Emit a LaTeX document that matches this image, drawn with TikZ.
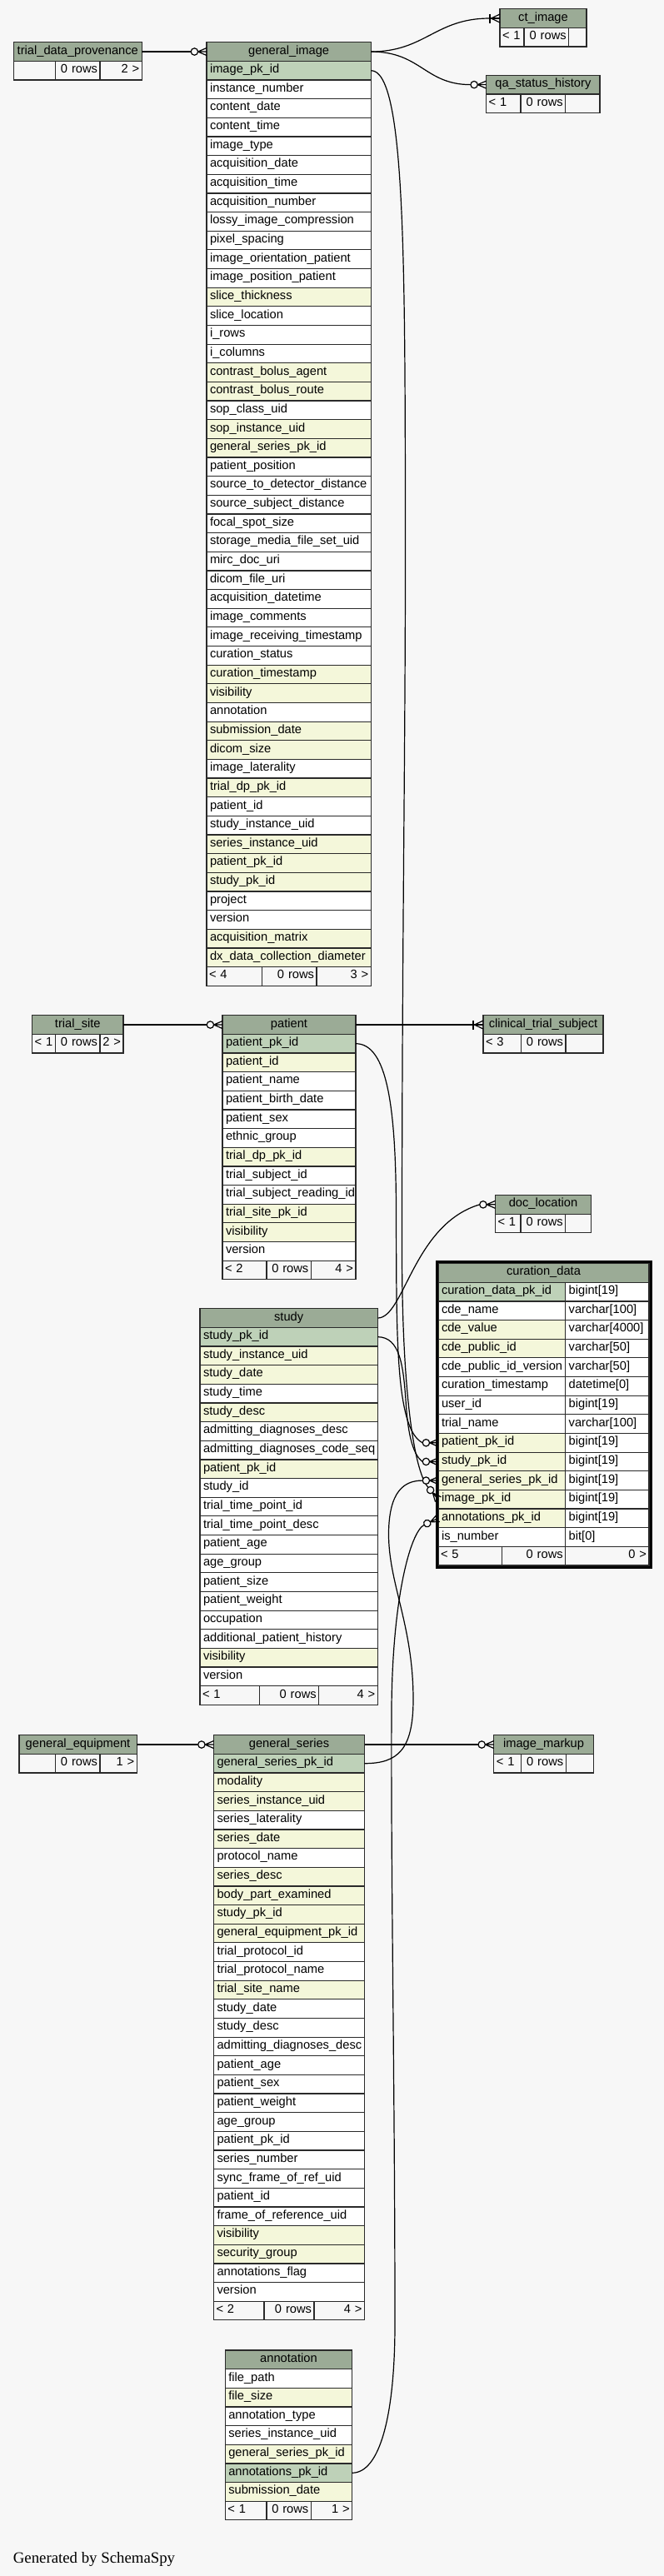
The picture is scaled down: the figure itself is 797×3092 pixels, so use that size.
\documentclass[tikz,border=0pt]{standalone}
\usepackage{fontspec}
\setmainfont{Liberation Sans}
\newfontfamily\genfont{Liberation Serif}
\usepackage{xcolor}
\usetikzlibrary{calc}
\usetikzlibrary{positioning}
\definecolor{hdrc}{HTML}{9BAB96}
\definecolor{pkc}{HTML}{BED1B8}
\definecolor{idxc}{HTML}{F4F7DA}
\definecolor{bgc}{HTML}{F7F7F7}
\definecolor{linec}{HTML}{2A2A2A}

\begin{document}
\begin{tikzpicture}[x=1pt,y=-1pt,
   cell/.style={draw=linec, line width=1.2pt, outer sep=0pt, inner xsep=4pt, inner ysep=0pt,
      minimum height=22.65pt, text height=10pt, text depth=4pt, anchor=north west, align=left,
      font=\fontsize{14.67}{17}\selectfont},
   hdr/.style={cell, fill=hdrc, align=center},
   pkr/.style={cell, fill=pkc},
   idx/.style={cell, fill=idxc},
   col/.style={cell, fill=white},
   ftl/.style={cell, fill=bgc, inner xsep=3pt},
   ftr/.style={cell, fill=bgc, inner xsep=3pt, align=right},
   fkline/.style={draw=black, line width=1.2pt},
   zmany/.pic={
      \draw[fkline, fill=bgc] (-14.6,0) circle[radius=4.2];
      \draw[fkline] (-10.4,0) -- (0,-4.5) (-10.4,0) -- (0,0) (-10.4,0) -- (0,4.5);
   },
   onemany/.pic={
      \draw[fkline] (-12.5,0) -- (0,0);
      \draw[fkline, line width=2pt] (-12.5,-5.5) -- (-12.5,5.5);
      \draw[fkline] (-10.5,0) -- (0,-5) (-10.5,0) -- (0,5);
   }]
\useasboundingbox (0,0) rectangle (797,3092);
\fill[bgc] (0,0) rectangle (797,3092);

% trial_data_provenance
\node[hdr, text width=146pt] (tdp) at (16.3,50.7) {trial\_data\_provenance};
\node[ftl, text width=44.3pt] (tdp-f1) at (16.3,73.35) {};
\node[ftr, text width=47.4pt] (tdp-f2) at (66.6,73.35) {0~rows};
\node[ftr, text width=44.3pt] (tdp-f3) at (120,73.35) {2~>};

% general_image
\node[hdr, text width=189.3pt] (gi) at (248,50.7) {general\_image};
\foreach \rowname/\rowsty [count=\i] in {image\_pk\_id/pkr, instance\_number/col, content\_date/col,
   content\_time/col, image\_type/col, acquisition\_date/col, acquisition\_time/col,
   acquisition\_number/col, lossy\_image\_compression/col, pixel\_spacing/col,
   image\_orientation\_patient/col, image\_position\_patient/col, slice\_thickness/idx,
   slice\_location/col, i\_rows/col, i\_columns/col, contrast\_bolus\_agent/idx,
   contrast\_bolus\_route/idx, sop\_class\_uid/col, sop\_instance\_uid/idx,
   general\_series\_pk\_id/idx, patient\_position/col, source\_to\_detector\_distance/col,
   source\_subject\_distance/col, focal\_spot\_size/col, storage\_media\_file\_set\_uid/col,
   mirc\_doc\_uri/col, dicom\_file\_uri/col, acquisition\_datetime/col, image\_comments/col,
   image\_receiving\_timestamp/col, curation\_status/col, curation\_timestamp/idx,
   visibility/idx, annotation/col, submission\_date/idx, dicom\_size/idx,
   image\_laterality/col, trial\_dp\_pk\_id/idx, patient\_id/col, study\_instance\_uid/col,
   series\_instance\_uid/idx, patient\_pk\_id/idx, study\_pk\_id/idx, project/col, version/col,
   acquisition\_matrix/idx, dx\_data\_collection\_diameter/idx}
   \node[\rowsty, text width=189.3pt] (gi-\i) at (248,{50.7+\i*22.65}) {\rowname};
\node[ftl, text width=60.3pt] (gi-f1) at (248,1160.55) {<~4};
\node[ftr, text width=59.7pt] (gi-f2) at (314.3,1160.55) {0~rows};
\node[ftr, text width=59.3pt] (gi-f3) at (380,1160.55) {3~>};

% ct_image
\node[hdr, text width=96pt] (ct) at (600,10.7) {ct\_image};
\node[ftl, text width=23pt] (ct-f1) at (600,33.35) {<~1};
\node[ftr, text width=47.7pt] (ct-f2) at (629,33.35) {0~rows};
\node[ftr, text width=15.3pt] (ct-f3) at (682.7,33.35) {};

% qa_status_history
\node[hdr, text width=128.3pt] (qa) at (583.7,90.3) {qa\_status\_history};
\node[ftl, text width=35.3pt] (qa-f1) at (583.7,112.95) {<~1};
\node[ftr, text width=47.7pt] (qa-f2) at (625,112.95) {0~rows};
\node[ftr, text width=35.3pt] (qa-f3) at (678.7,112.95) {};

% trial_site
\node[hdr, text width=101.4pt] (ts) at (38.6,1218.7) {trial\_site};
\node[ftl, text width=22pt] (ts-f1) at (38.6,1241.35) {<~1};
\node[ftr, text width=47.4pt] (ts-f2) at (66.6,1241.35) {0~rows};
\node[ftr, text width=22pt] (ts-f3) at (120,1241.35) {2~>};

% patient
\node[hdr, text width=152pt] (pa) at (267,1218.7) {patient};
\foreach \rowname/\rowsty [count=\i] in {patient\_pk\_id/pkr, patient\_id/idx, patient\_name/col,
   patient\_birth\_date/col, patient\_sex/col, ethnic\_group/col, trial\_dp\_pk\_id/idx,
   trial\_subject\_id/col, trial\_subject\_reading\_id/col, trial\_site\_pk\_id/idx,
   visibility/idx, version/col}
   \node[\rowsty, text width=152pt] (pa-\i) at (267,{1218.7+\i*22.65}) {\rowname};
\node[ftl, text width=47pt] (pa-f1) at (267,1513.15) {<~2};
\node[ftr, text width=47.3pt] (pa-f2) at (320,1513.15) {0~rows};
\node[ftr, text width=47.7pt] (pa-f3) at (373.3,1513.15) {4~>};

% clinical_trial_subject
\node[hdr, text width=136pt] (cts) at (580,1218.7) {clinical\_trial\_subject};
\node[ftl, text width=39.3pt] (cts-f1) at (580,1241.35) {<~3};
\node[ftr, text width=47.7pt] (cts-f2) at (625.3,1241.35) {0~rows};
\node[ftr, text width=39pt] (cts-f3) at (679,1241.35) {};

% doc_location
\node[hdr, text width=107pt] (dl) at (594.5,1434.5) {doc\_location};
\node[ftl, text width=24.5pt] (dl-f1) at (594.5,1457.15) {<~1};
\node[ftr, text width=47.7pt] (dl-f2) at (625,1457.15) {0~rows};
\node[ftr, text width=24.8pt] (dl-f3) at (678.7,1457.15) {};

% curation_data
\node[hdr, text width=245pt] (cd) at (526,1516.6) {curation\_data};
\foreach \rowname/\rowsty/\rowtype [count=\i] in {curation\_data\_pk\_id/pkr/bigint[19],
   cde\_name/col/varchar[100], cde\_value/idx/varchar[4000], cde\_public\_id/idx/varchar[50],
   cde\_public\_id\_version/col/varchar[50], curation\_timestamp/col/datetime[0],
   user\_id/col/bigint[19], trial\_name/col/varchar[100], patient\_pk\_id/idx/bigint[19],
   study\_pk\_id/idx/bigint[19], general\_series\_pk\_id/idx/bigint[19],
   image\_pk\_id/idx/bigint[19], annotations\_pk\_id/idx/bigint[19], is\_number/col/bit[0]}
{
   \node[\rowsty, text width=144.7pt] (cd-\i) at (526,{1516.6+\i*22.65}) {\rowname};
   \node[col, text width=92.3pt] (cd-\i-t) at (678.7,{1516.6+\i*22.65}) {\rowtype};
}
\node[ftl, text width=70.7pt] (cd-f1) at (526,1856.35) {<~5};
\node[ftr, text width=70pt] (cd-f2) at (602.7,1856.35) {0~rows};
\node[ftr, text width=94.3pt] (cd-f3) at (678.7,1856.35) {0~>};

% study
\node[hdr, text width=205.3pt] (st) at (240,1570.7) {study};
\foreach \rowname/\rowsty [count=\i] in {study\_pk\_id/pkr, study\_instance\_uid/idx,
   study\_date/idx, study\_time/col, study\_desc/idx, admitting\_diagnoses\_desc/col,
   admitting\_diagnoses\_code\_seq/col, patient\_pk\_id/idx, study\_id/col,
   trial\_time\_point\_id/col, trial\_time\_point\_desc/col, patient\_age/col, age\_group/col,
   patient\_size/col, patient\_weight/col, occupation/col, additional\_patient\_history/col,
   visibility/idx, version/col}
   \node[\rowsty, text width=205.3pt] (st-\i) at (240,{1570.7+\i*22.65}) {\rowname};
\node[ftl, text width=65.7pt] (st-f1) at (240,2023.7) {<~1};
\node[ftr, text width=65pt] (st-f2) at (311.7,2023.7) {0~rows};
\node[ftr, text width=64.6pt] (st-f3) at (382.7,2023.7) {4~>};

% general_equipment
\node[hdr, text width=133.3pt] (geq) at (22.9,2082.7) {general\_equipment};
\node[ftl, text width=37.7pt] (geq-f1) at (22.9,2105.35) {};
\node[ftr, text width=47.4pt] (geq-f2) at (66.6,2105.35) {0~rows};
\node[ftr, text width=38.2pt] (geq-f3) at (120,2105.35) {1~>};

% general_series
\node[hdr, text width=173pt] (gs) at (256.5,2082.7) {general\_series};
\foreach \rowname/\rowsty [count=\i] in {general\_series\_pk\_id/pkr, modality/idx,
   series\_instance\_uid/idx, series\_laterality/col, series\_date/idx, protocol\_name/col,
   series\_desc/idx, body\_part\_examined/idx, study\_pk\_id/idx, general\_equipment\_pk\_id/idx,
   trial\_protocol\_id/col, trial\_protocol\_name/col, trial\_site\_name/idx, study\_date/col,
   study\_desc/col, admitting\_diagnoses\_desc/col, patient\_age/col, patient\_sex/col,
   patient\_weight/col, age\_group/col, patient\_pk\_id/col, series\_number/col,
   sync\_frame\_of\_ref\_uid/col, patient\_id/col, frame\_of\_reference\_uid/col,
   visibility/idx, security\_group/idx, annotations\_flag/col, version/col}
   \node[\rowsty, text width=173pt] (gs-\i) at (256.5,{2082.7+\i*22.65}) {\rowname};
\node[ftl, text width=54.5pt] (gs-f1) at (256.5,2762.2) {<~2};
\node[ftr, text width=54pt] (gs-f2) at (317,2762.2) {0~rows};
\node[ftr, text width=54.5pt] (gs-f3) at (377,2762.2) {4~>};

% image_markup
\node[hdr, text width=111.5pt] (im) at (592.8,2082.7) {image\_markup};
\node[ftl, text width=26.5pt] (im-f1) at (592.8,2105.35) {<~1};
\node[ftr, text width=47.9pt] (im-f2) at (625.3,2105.35) {0~rows};
\node[ftr, text width=27.1pt] (im-f3) at (679.2,2105.35) {};

% annotation
\node[hdr, text width=144.4pt] (an) at (270.3,2821) {annotation};
\foreach \rowname/\rowsty [count=\i] in {file\_path/col, file\_size/idx, annotation\_type/col,
   series\_instance\_uid/col, general\_series\_pk\_id/idx, annotations\_pk\_id/pkr,
   submission\_date/idx}
   \node[\rowsty, text width=144.4pt] (an-\i) at (270.3,{2821+\i*22.65}) {\rowname};
\node[ftl, text width=43.7pt] (an-f1) at (270.3,3002.2) {<~1};
\node[ftr, text width=47.3pt] (an-f2) at (320,3002.2) {0~rows};
\node[ftr, text width=43.4pt] (an-f3) at (373.3,3002.2) {1~>};

% connector ends
\coordinate (gi-in) at ($(gi.west)+(-18.8,0)$);
\coordinate (ct-in) at ($(ct.west)+(-12.5,0)$);
\coordinate (qa-in) at ($(qa.west)+(-18.8,0)$);
\coordinate (pa-in) at ($(pa.west)+(-18.8,0)$);
\coordinate (cts-in) at ($(cts.west)+(-12.5,0)$);
\coordinate (dl-in) at ($(dl.west)+(-18.8,0)$);
\coordinate (gs-in) at ($(gs.west)+(-18.8,0)$);
\coordinate (im-in) at ($(im.west)+(-18.8,0)$);
\coordinate (cd-pat-in) at ($(cd-9.west)+(-18.8,0)$);
\coordinate (cd-st-in) at ($(cd-10.west)+(-18.8,0)$);
\coordinate (cd-gs-in) at ($(cd-11.west)+(-18.8,0)$);
\coordinate (cd-img-in) at ($(cd-12.west)+(-12.1,-14.4)$);
\coordinate (cd-ann-in) at ($(cd-13.west)+(-17,7.9)$);

% connectors
\draw[fkline] (tdp.east) -- (gi-in);
\draw[fkline] (gi.east) .. controls +(65,0) and +(-65,0) .. (ct-in);
\draw[fkline] (gi.east) .. controls +(60,0) and +(-55,0) .. (qa-in);
\draw[fkline] (gi-1.east) .. controls +(40,0) and (486,300) .. (486.5,600)
   .. controls (487,900) and (482.5,1100) .. (482.5,1500)
   .. controls (482.5,1690) and (500,1770) .. (cd-img-in);
\draw[fkline] (ts.east) -- (pa-in);
\draw[fkline] (pa.east) -- (cts-in);
\draw[fkline] (pa-1.east) .. controls +(38,0) and (475,1330) .. (475.5,1450)
   .. controls (476,1600) and (474,1715) .. (cd-pat-in);
\draw[fkline] (st.east) .. controls +(32,0) and +(-80,24) .. (dl-in);
\draw[fkline] (st-1.east) .. controls +(27,0) and (484,1640) .. (487,1680)
   .. controls (489,1715) and (494,1745) .. (cd-st-in);
\draw[fkline] (geq.east) -- (gs-in);
\draw[fkline] (gs.east) -- (im-in);
\draw[fkline] (gs-1.east) .. controls +(40,0) and (496,2100) .. (496,2040)
   .. controls (496,1950) and (466,1900) .. (466.5,1840)
   .. controls (467,1790) and (485,1777) .. (cd-gs-in);
\draw[fkline] (an-6.east) .. controls +(33,0) and (474,2900) .. (474,2790)
   .. controls (474,2500) and (469,2250) .. (470,2050)
   .. controls (471,1920) and (492,1840) .. (cd-ann-in);

\pic at (gi.west) {zmany};
\pic at (ct.west) {onemany};
\pic at (qa.west) {zmany};
\pic at (pa.west) {zmany};
\pic at (cts.west) {onemany};
\pic at (dl.west) {zmany};
\pic at (gs.west) {zmany};
\pic at (im.west) {zmany};
\pic at (cd-9.west) {zmany};
\pic at (cd-10.west) {zmany};
\pic at (cd-11.west) {zmany};
\pic[rotate=-50] at (cd-12.west) {zmany};
\pic[rotate=25] at (cd-13.west) {zmany};

% thick frame of curation_data
\draw[black, line width=3pt] (524,1514.6) rectangle (781,1881.4);

\node[anchor=base west, inner sep=0pt, font=\genfont\fontsize{18.8}{22}\selectfont] (gen)
   at (15.7,3076) {Generated by SchemaSpy};
\end{tikzpicture}
\end{document}
